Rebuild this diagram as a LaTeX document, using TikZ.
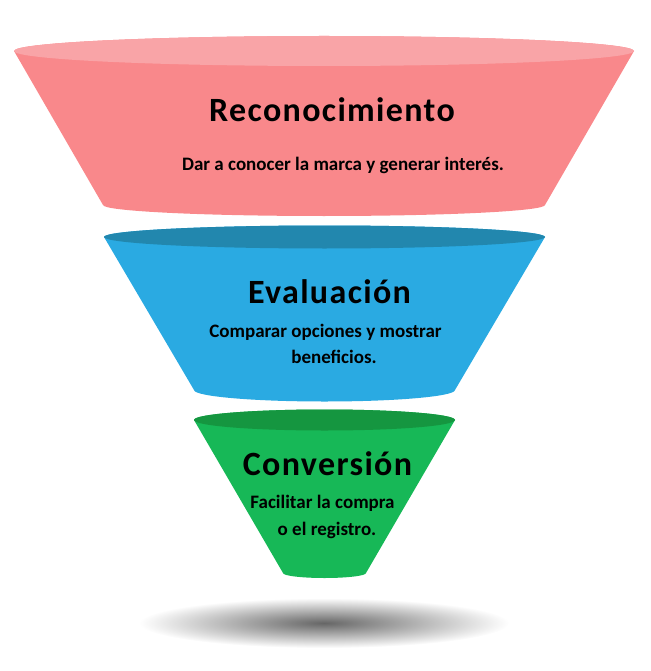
\documentclass[tikz,border=0pt]{standalone}
\usepackage{fontspec}
\setmainfont{Carlito}
\newfontfamily\titlefont[LetterSpace=4]{Carlito}
\usepackage{tikz}
\usetikzlibrary{positioning}
\definecolor{recbody}{RGB}{249,136,139}
\definecolor{rectop}{RGB}{249,164,167}
\definecolor{evabody}{RGB}{42,170,226}
\definecolor{evatop}{RGB}{34,135,174}
\definecolor{conbody}{RGB}{23,184,87}
\definecolor{contop}{RGB}{21,150,64}

\begin{document}
\begin{tikzpicture}[x=1pt, y=-1pt,
    every node/.style={inner sep=0pt, anchor=base, font=\bfseries},
    stagetitle/.style={font=\titlefont\bfseries\fontsize{34}{38}\selectfont},
    stagetext/.style={font=\bfseries\fontsize{19}{22}\selectfont}
]
\useasboundingbox (0,0) rectangle (650,671);

% floor shadow
\shade[inner color=black!60, outer color=white] (324,623) ellipse[x radius=185, y radius=25];

% Reconocimiento layer
\fill[recbody] (14,51) -- (103,205) arc[start angle=180, end angle=0, x radius=221, y radius=11]
    -- (634,51) arc[start angle=0, end angle=-180, x radius=310, y radius=15] -- cycle;
\fill[rectop] (324,51) ellipse[x radius=310, y radius=15];
\node[stagetitle] (rec) at (332,122) {Reconocimiento};
\node[stagetext] (rectxt) at (343,171) {Dar a conocer la marca y generar interés.};

% Evaluacion layer
\fill[evabody] (104,237) -- (194,390) arc[start angle=180, end angle=0, x radius=130.5, y radius=11.5]
    -- (545,237) arc[start angle=0, end angle=-180, x radius=220.5, y radius=11.5] -- cycle;
\fill[evatop] (324.5,237) ellipse[x radius=220.5, y radius=11.5];
\node[stagetitle] (eva) at (329.5,303) {Evaluación};
\node[stagetext] (evatxt1) at (325.5,337) {Comparar opciones y mostrar};
\node[stagetext] (evatxt2) at (334,363) {beneficios.};

% Conversion layer
\fill[conbody] (194,420) -- (283,573) arc[start angle=180, end angle=0, x radius=41.5, y radius=5]
    -- (455,420) arc[start angle=0, end angle=-180, x radius=130.5, y radius=10.5] -- cycle;
\fill[contop] (324.5,420) ellipse[x radius=130.5, y radius=10.5];
\node[stagetitle] (con) at (327.5,475) {Conversión};
\node[stagetext] (contxt1) at (322.5,508) {Facilitar la compra};
\node[stagetext] (contxt2) at (327,535) {o el registro.};
\end{tikzpicture}
\end{document}
